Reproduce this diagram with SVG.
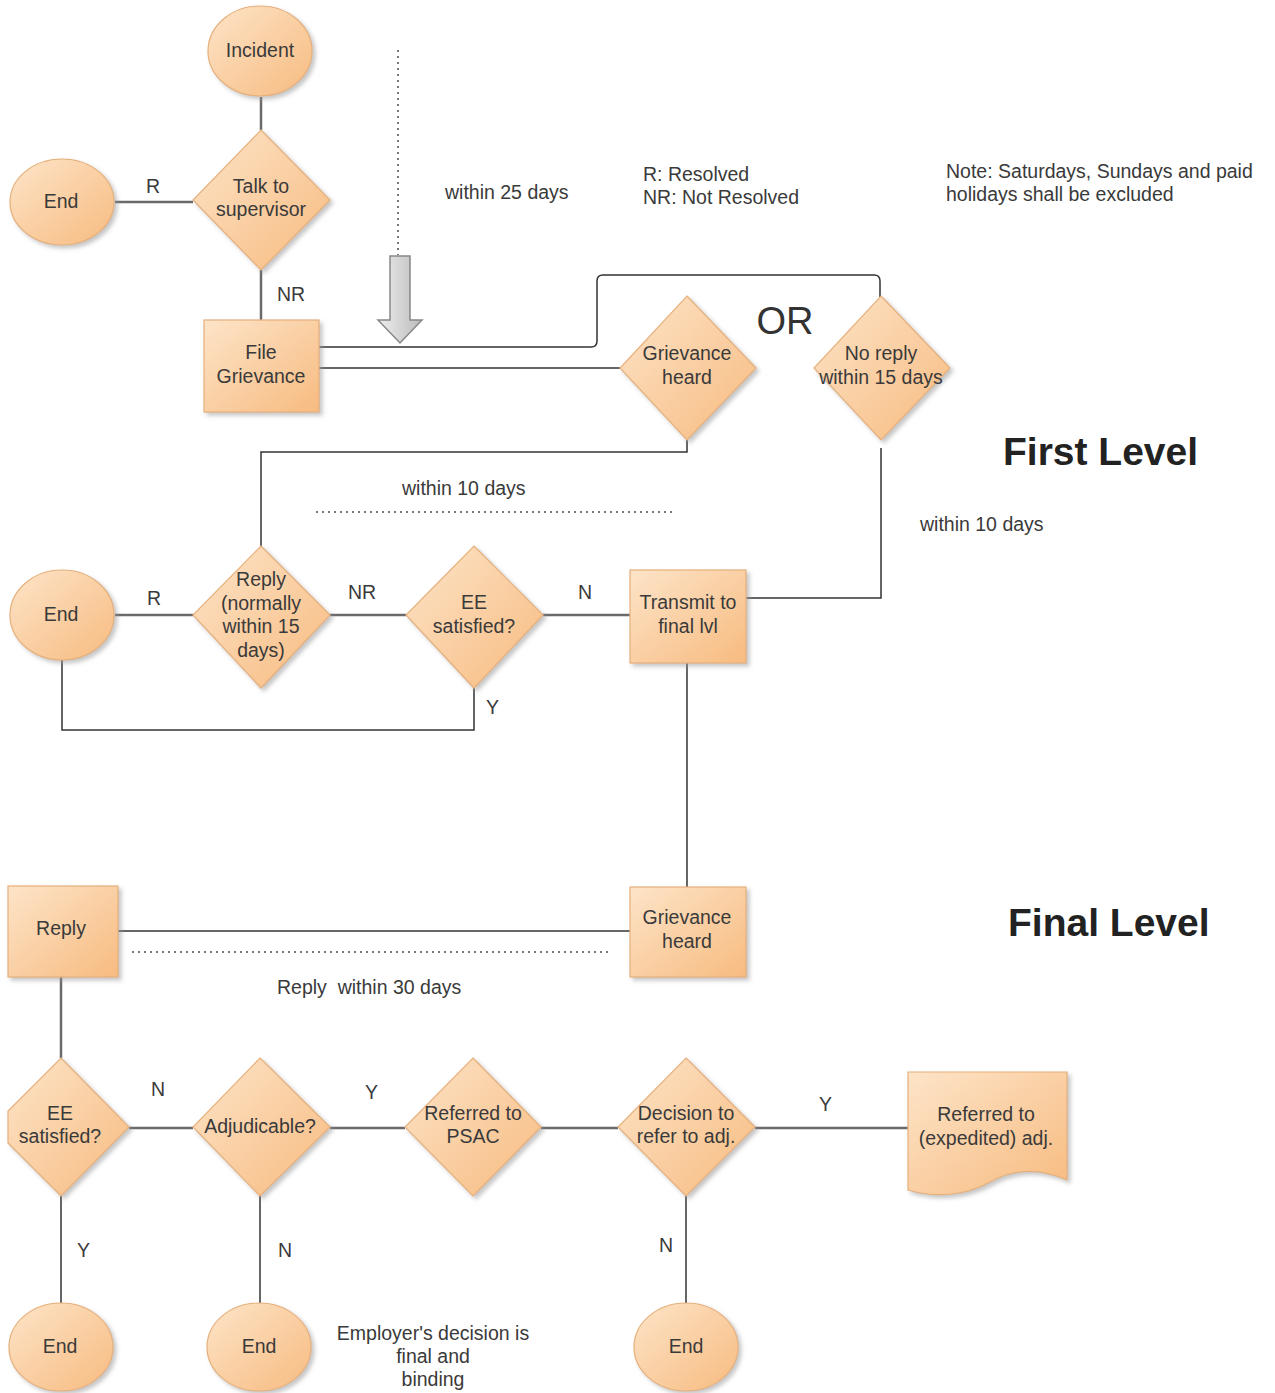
<svg xmlns="http://www.w3.org/2000/svg" width="1275" height="1393" viewBox="0 0 1275 1393">
<defs>
<linearGradient id="g" x1="0" y1="0" x2="1" y2="1">
<stop offset="0" stop-color="#fde4c8"/>
<stop offset="1" stop-color="#f7bb80"/>
</linearGradient>
<linearGradient id="ga" x1="0" y1="0" x2="1" y2="0">
<stop offset="0" stop-color="#eeeeee"/>
<stop offset="1" stop-color="#bbbbbb"/>
</linearGradient>
<filter id="sh" x="-20%" y="-20%" width="140%" height="140%">
<feDropShadow dx="3" dy="3" stdDeviation="2" flood-color="#999" flood-opacity="0.55"/>
</filter>
</defs>
<style>
.n{fill:url(#g);stroke:#e6b07c;stroke-width:1.2;filter:url(#sh)}
.t{font-family:"Liberation Sans",Arial,sans-serif;font-size:19.5px;fill:#3a3a3a;text-anchor:middle}
.l{font-family:"Liberation Sans",Arial,sans-serif;font-size:19.5px;fill:#3a3a3a}
.c{fill:none;stroke:#6a6a6a;stroke-width:2.5}
.k{fill:none;stroke:#333;stroke-width:1.5}
.d{fill:none;stroke:#777;stroke-width:2;stroke-dasharray:2 4}
.h{font-family:"Liberation Sans",Arial,sans-serif;font-size:39px;font-weight:bold;fill:#222}
</style>
<rect width="1275" height="1393" fill="#fff"/>

<g id="connectors">
<path class="c" d="M261 97V130"/>
<path class="c" d="M115 202H193"/>
<path class="c" d="M261 270V320"/>
<path class="k" d="M319 347H591Q597 347 597 341V281Q597 275 603 275H874Q880 275 880 281V297"/>
<path class="k" d="M319 368H620"/>
<path class="k" d="M687 440V452H261V546"/>
<path class="k" d="M881 448V598H746"/>
<path class="c" d="M115 615H193"/>
<path class="c" d="M330 615H406"/>
<path class="c" d="M543 615H630"/>
<path class="k" d="M474 688V730H62V660"/>
<path class="k" d="M687 663V887"/>
<path class="k" d="M118 931H630"/>
<path class="c" d="M61 977V1058"/>
<path class="c" d="M129 1128H193"/>
<path class="c" d="M330 1128H405"/>
<path class="c" d="M541 1128H618"/>
<path class="c" d="M755 1128H908"/>
<path class="k" d="M61 1196V1305"/>
<path class="k" d="M260 1196V1305"/>
<path class="k" d="M686 1196V1305"/>
<path class="d" d="M398 50V255"/>
<path class="d" d="M316 512H676"/>
<path class="d" d="M132 952H610"/>
<path d="M390 256H410V320H422L400 343L378 320H390Z" fill="url(#ga)" stroke="#888" stroke-width="1.5"/>
</g>

<g id="incident"><ellipse class="n" cx="260" cy="51" rx="52" ry="45"/><text class="t" x="260" y="57">Incident</text></g>
<g id="end1"><ellipse class="n" cx="62" cy="202" rx="52" ry="43"/><text class="t" x="61" y="208">End</text></g>
<g id="talk"><polygon class="n" points="261,130 330,200 261,270 193,200"/><text class="t" x="261" y="193">Talk to</text><text class="t" x="261" y="216">supervisor</text></g>
<g id="file"><rect class="n" x="204" y="320" width="115" height="92"/><text class="t" x="261" y="359">File</text><text class="t" x="261" y="383">Grievance</text></g>
<g id="heard1"><polygon class="n" points="687,296 756,368 687,440 620,368"/><text class="t" x="687" y="360">Grievance</text><text class="t" x="687" y="384">heard</text></g>
<g id="noreply"><polygon class="n" points="881,296 950,368 881,440 814,368"/><text class="t" x="881" y="360">No reply</text><text class="t" x="881" y="384">within 15 days</text></g>
<g id="end2"><ellipse class="n" cx="62" cy="615" rx="52" ry="45"/><text class="t" x="61" y="621">End</text></g>
<g id="reply1"><polygon class="n" points="261,546 330,615 261,688 193,615"/><text class="t" x="261" y="586">Reply</text><text class="t" x="261" y="610">(normally</text><text class="t" x="261" y="633">within 15</text><text class="t" x="261" y="657">days)</text></g>
<g id="ee1"><polygon class="n" points="474,546 543,615 474,688 406,615"/><text class="t" x="474" y="609">EE</text><text class="t" x="474" y="633">satisfied?</text></g>
<g id="transmit"><rect class="n" x="630" y="570" width="116" height="93"/><text class="t" x="688" y="609">Transmit to</text><text class="t" x="688" y="633">final lvl</text></g>
<g id="heard2"><rect class="n" x="630" y="887" width="116" height="90"/><text class="t" x="687" y="924">Grievance</text><text class="t" x="687" y="948">heard</text></g>
<g id="reply2"><rect class="n" x="8" y="886" width="110" height="91"/><text class="t" x="61" y="935">Reply</text></g>
<g id="ee2"><polygon class="n" points="61,1058 129,1127 61,1196 8,1143 8,1111"/><text class="t" x="60" y="1120">EE</text><text class="t" x="60" y="1143">satisfied?</text></g>
<g id="adj"><polygon class="n" points="260,1058 330,1127 260,1196 193,1127"/><text class="t" x="260" y="1133">Adjudicable?</text></g>
<g id="psac"><polygon class="n" points="473,1058 541,1127 473,1196 405,1127"/><text class="t" x="473" y="1120">Referred to</text><text class="t" x="473" y="1143">PSAC</text></g>
<g id="decision"><polygon class="n" points="686,1058 755,1127 686,1196 618,1127"/><text class="t" x="686" y="1120">Decision to</text><text class="t" x="686" y="1143">refer to adj.</text></g>
<g id="referred"><path class="n" d="M908 1072H1067V1180C1040 1168 1015 1168 990 1182C965 1196 935 1198 908 1190Z"/><text class="t" x="986" y="1121">Referred to</text><text class="t" x="986" y="1145">(expedited) adj.</text></g>
<g id="end3"><ellipse class="n" cx="61" cy="1347" rx="52" ry="44"/><text class="t" x="60" y="1353">End</text></g>
<g id="end4"><ellipse class="n" cx="259" cy="1347" rx="52" ry="44"/><text class="t" x="259" y="1353">End</text></g>
<g id="end5"><ellipse class="n" cx="686" cy="1347" rx="52" ry="44"/><text class="t" x="686" y="1353">End</text></g>

<g id="labels">
<text class="l" x="146" y="193">R</text>
<text class="l" x="277" y="301">NR</text>
<text class="l" x="445" y="199">within 25 days</text>
<text class="l" x="643" y="181">R: Resolved</text>
<text class="l" x="643" y="204">NR: Not Resolved</text>
<text class="l" x="946" y="178">Note: Saturdays, Sundays and paid</text>
<text class="l" x="946" y="201">holidays shall be excluded</text>
<text x="785" y="334" style="font-family:'Liberation Sans',Arial,sans-serif;font-size:38px;fill:#333;text-anchor:middle">OR</text>
<text class="h" x="1003" y="465">First Level</text>
<text class="l" x="402" y="495">within 10 days</text>
<text class="l" x="920" y="531">within 10 days</text>
<text class="l" x="147" y="605">R</text>
<text class="l" x="348" y="599">NR</text>
<text class="l" x="578" y="599">N</text>
<text class="l" x="486" y="714">Y</text>
<text class="h" x="1008" y="936">Final Level</text>
<text class="l" x="277" y="994" xml:space="preserve">Reply  within 30 days</text>
<text class="l" x="151" y="1096">N</text>
<text class="l" x="365" y="1099">Y</text>
<text class="l" x="819" y="1111">Y</text>
<text class="l" x="77" y="1257">Y</text>
<text class="l" x="278" y="1257">N</text>
<text class="l" x="659" y="1252">N</text>
<text class="t" x="433" y="1340">Employer's decision is</text>
<text class="t" x="433" y="1363">final and</text>
<text class="t" x="433" y="1386">binding</text>
</g>
</svg>
